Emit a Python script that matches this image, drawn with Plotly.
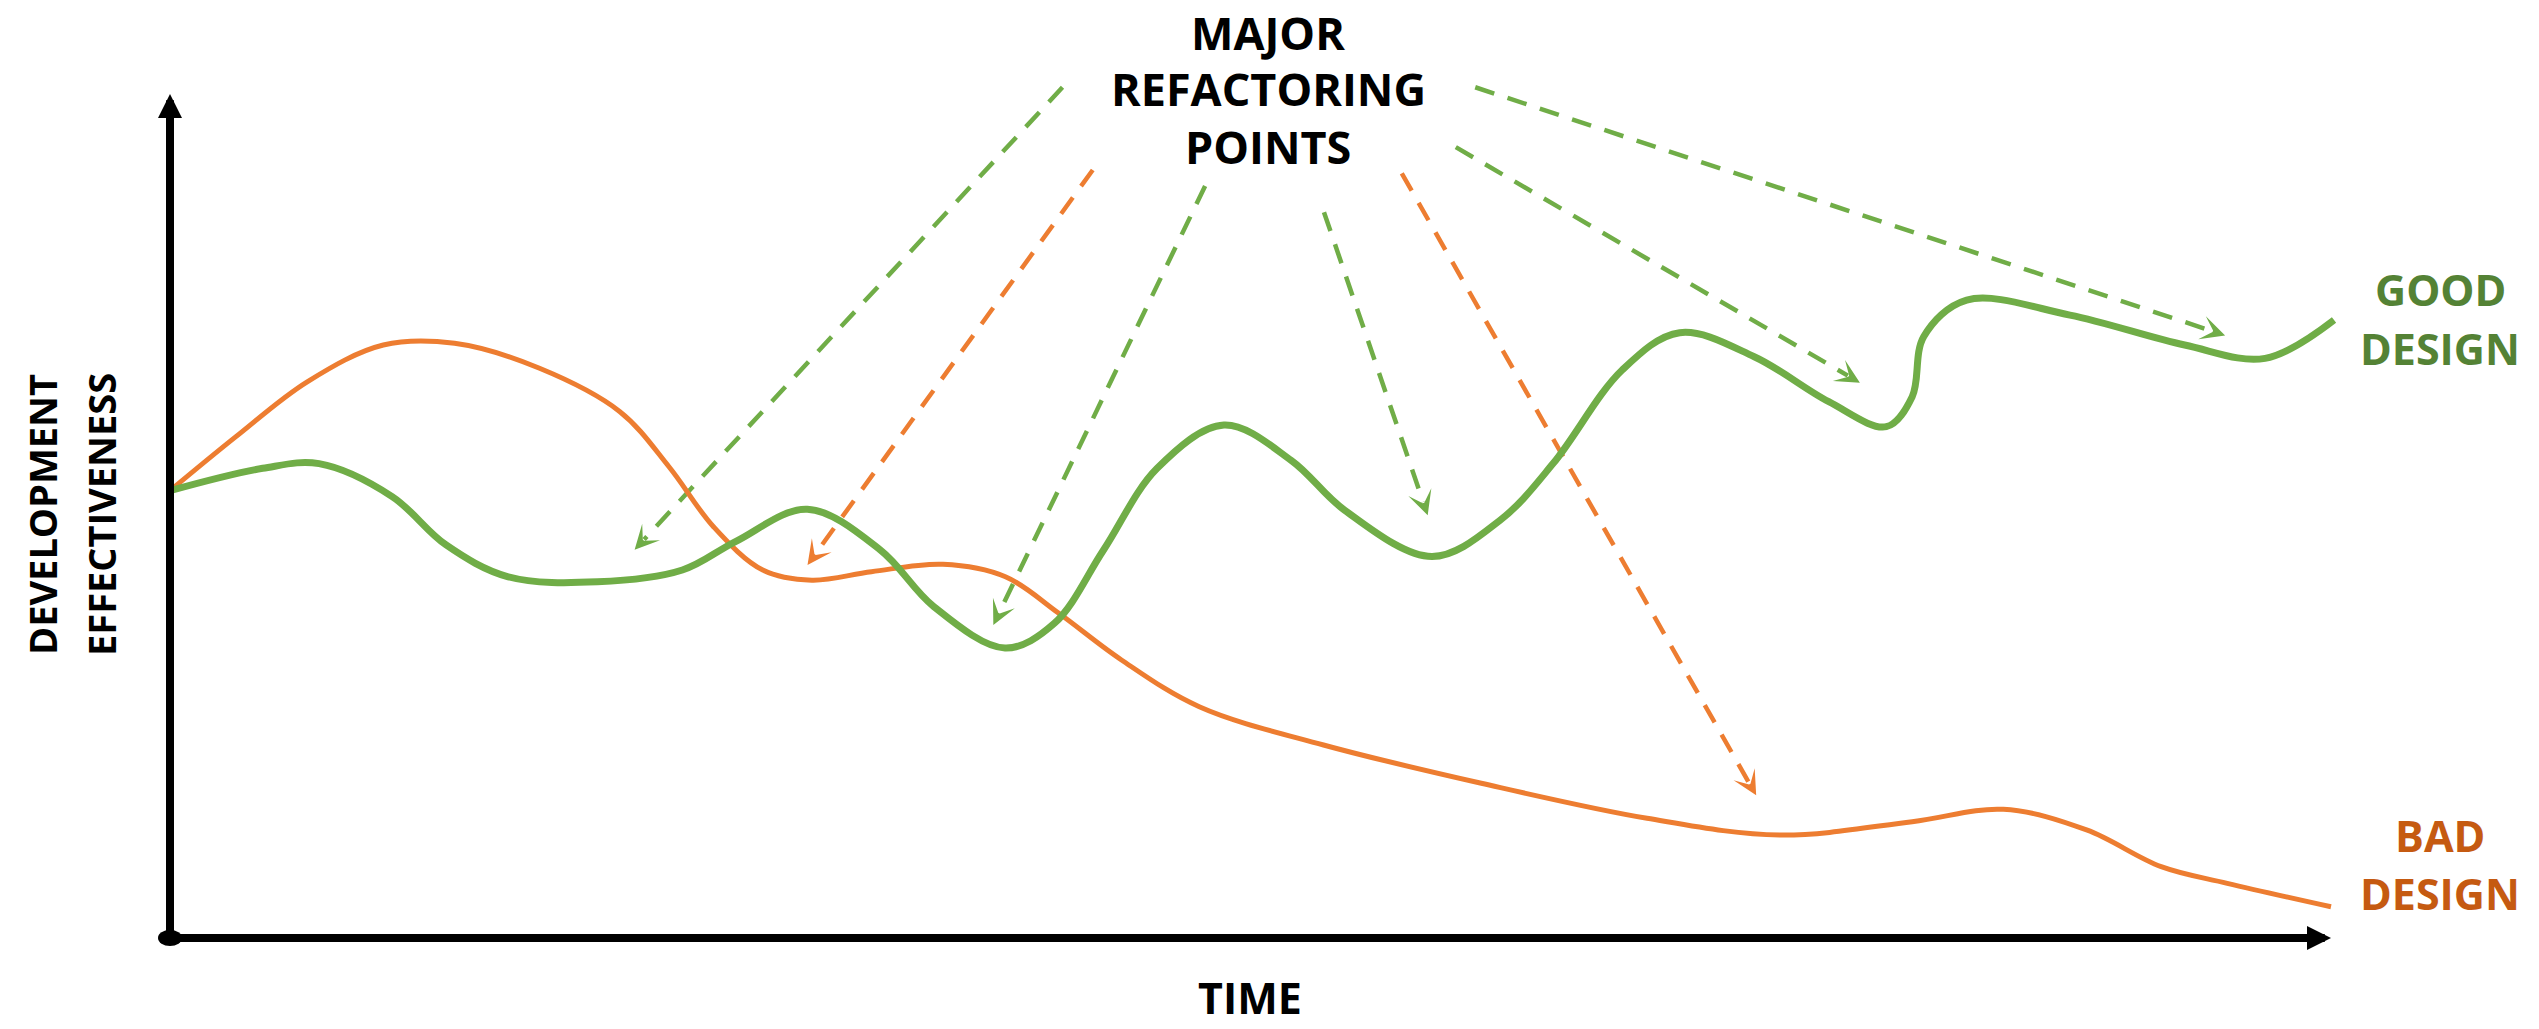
import math
import plotly.graph_objects as go

# ---- data -----------------------------------------------------------------
# Time (0-100) vs. development effectiveness (0-100)
good_t = [0, 4.29, 6.9, 10.28, 12.76, 15.65, 19.78, 23.71, 26.19, 29.49, 32.87,
          35.35, 38.64, 40.93, 43.2, 45.68, 48.77, 51.88, 54.35, 58.4, 61.55,
          64.01, 67.2, 69.86, 73.31, 76.76, 79.42, 80.62, 81.15, 83.14, 87.92,
          93.23, 96.95, 100.14]
good_e = [53.0, 55.65, 56.2, 52.3, 46.6, 42.8, 42.2, 43.6, 47.0, 50.8, 45.97,
          39.25, 34.36, 37.3, 45.97, 55.65, 60.78, 56.6, 50.7, 45.2, 49.5,
          56.24, 67.3, 71.72, 68.87, 63.54, 60.58, 64.14, 71.24, 75.59, 73.8,
          70.26, 68.68, 73.22]

bad_t = [0, 3.05, 6.35, 9.87, 13.17, 17.1, 20.82, 23.09, 25.15, 27.43, 29.7,
         32.46, 35.77, 38.66, 41.13, 44.03, 47.63, 53.38, 60.68, 68.35, 74.49,
         80.62, 84.84, 88.69, 92.14, 95.2, 100]
bad_e = [53.0, 59.4, 65.9, 70.26, 70.46, 67.5, 62.36, 55.84, 48.73, 43.6, 42.4,
         43.4, 44.28, 42.8, 38.47, 32.94, 27.4, 22.87, 18.33, 14.18, 12.2,
         13.78, 15.25, 12.8, 8.45, 6.48, 3.7]

# Refactoring call-outs: dashed arrows from the caption to points on the curves
refactor_kind = ["good", "bad", "good", "good", "bad", "good", "good"]
refactor_from_t = [41.3, 42.7, 47.9, 53.4, 57.0, 59.5, 60.4]
refactor_from_e = [100.8, 91.0, 89.1, 86.0, 90.6, 93.7, 100.8]
refactor_to_t = [21.5, 29.5, 38.1, 58.2, 73.4, 78.2, 95.1]
refactor_to_e = [46.0, 44.2, 37.1, 50.1, 16.9, 65.8, 71.4]

caption_lines = ["MAJOR", "REFACTORING", "POINTS"]
y_title_lines = ["DEVELOPMENT", "EFFECTIVENESS"]
x_title = "TIME"
good_label = ["GOOD", "DESIGN"]
bad_label = ["BAD", "DESIGN"]

# ---- styling / layout ------------------------------------------------------
W, H = 2539, 1029
ORIGIN_X, ORIGIN_Y = 170, 938      # pixel position of (0, 0)
X_END, Y_END = 2331, 94            # pixel tips of the axes (t=100, e=100)
PX_T = (X_END - ORIGIN_X) / 100.0
PX_E = (ORIGIN_Y - Y_END) / 100.0

GREEN, ORANGE = "#70AD47", "#ED7D31"
GREEN_TXT, ORANGE_TXT = "#548235", "#C55A11"
FONT = "Open Sans"

x_range = [-ORIGIN_X / PX_T, (W - ORIGIN_X) / PX_T]
y_range = [-(H - ORIGIN_Y) / PX_E, ORIGIN_Y / PX_E]

fig = go.Figure()

# dashed call-out lines (drawn beneath the curves)
HEAD_BACK = 14  # px: where the dashed stem hands over to the arrowhead
arrow_anns = []
for kind, t0, e0, t1, e1 in zip(refactor_kind, refactor_from_t, refactor_from_e,
                                refactor_to_t, refactor_to_e):
    col = GREEN if kind == "good" else ORANGE
    dx = (t0 - t1) * PX_T
    dy = -(e0 - e1) * PX_E
    n = math.hypot(dx, dy)
    ux, uy = dx / n, dy / n
    t_end = t1 + ux * HEAD_BACK / PX_T
    e_end = e1 - uy * HEAD_BACK / PX_E
    fig.add_trace(go.Scatter(
        x=[t0, t_end], y=[e0, e_end], mode="lines",
        line=dict(color=col, width=4.5, dash="20px,14px"),
        hoverinfo="skip", showlegend=False, cliponaxis=False))
    arrow_anns.append(dict(
        x=t1, y=e1, xref="x", yref="y", text="", showarrow=True,
        ax=ux * HEAD_BACK, ay=uy * HEAD_BACK, axref="pixel", ayref="pixel",
        arrowhead=3, arrowsize=0.9, arrowwidth=4.5, arrowcolor=col, standoff=0))

# curves
fig.add_trace(go.Scatter(
    x=bad_t, y=bad_e, mode="lines", name="Bad design",
    line=dict(color=ORANGE, width=5, shape="spline", smoothing=1.0),
    showlegend=False, cliponaxis=False))
fig.add_trace(go.Scatter(
    x=good_t, y=good_e, mode="lines", name="Good design",
    line=dict(color=GREEN, width=7, shape="spline", smoothing=1.0),
    showlegend=False, cliponaxis=False))

anns = list(arrow_anns)

# axes with arrowheads
anns.append(dict(x=0, y=100, xref="x", yref="y", ax=0, ay=0, axref="x", ayref="y",
                 text="", showarrow=True, arrowhead=2, arrowsize=0.6, arrowwidth=8,
                 arrowcolor="black", standoff=0))
anns.append(dict(x=100, y=0, xref="x", yref="y", ax=0, ay=0, axref="x", ayref="y",
                 text="", showarrow=True, arrowhead=2, arrowsize=0.6, arrowwidth=8,
                 arrowcolor="black", standoff=0))


def txt(text, px, py, color="black", size=43, angle=0, yanchor="middle"):
    return dict(x=px / W, y=1 - py / H, xref="paper", yref="paper", text=text,
                showarrow=False, xanchor="center", yanchor=yanchor, textangle=angle,
                font=dict(family=FONT, size=size, color=color, weight="bold"))


anns.append(txt(caption_lines[0], 1268, 0, size=45, yanchor="top"))
for line, py in zip(caption_lines[1:], [88, 147]):
    anns.append(txt(line, 1268, py, size=45))
for line, py in zip(good_label, [290, 348]):
    anns.append(txt(line, 2440, py, GREEN_TXT))
for line, py in zip(bad_label, [835, 893]):
    anns.append(txt(line, 2440, py, ORANGE_TXT))
anns.append(txt(x_title, 1250, H, size=43, yanchor="bottom"))
for line, px in zip(y_title_lines, [42, 101]):
    anns.append(txt(line, px, 515, size=38, angle=-90))

fig.update_layout(
    width=W, height=H, autosize=False,
    margin=dict(l=0, r=0, t=0, b=0),
    paper_bgcolor="white", plot_bgcolor="white",
    xaxis=dict(range=x_range, visible=False, fixedrange=True),
    yaxis=dict(range=y_range, visible=False, fixedrange=True),
    annotations=anns,
    shapes=[dict(type="circle", xref="x", yref="y", xsizemode="pixel",
                 ysizemode="pixel", xanchor=0, yanchor=0,
                 x0=-12, x1=12, y0=-8, y1=8,
                 fillcolor="black", line=dict(color="black", width=0))],
)

fig.write_html("out.html")
